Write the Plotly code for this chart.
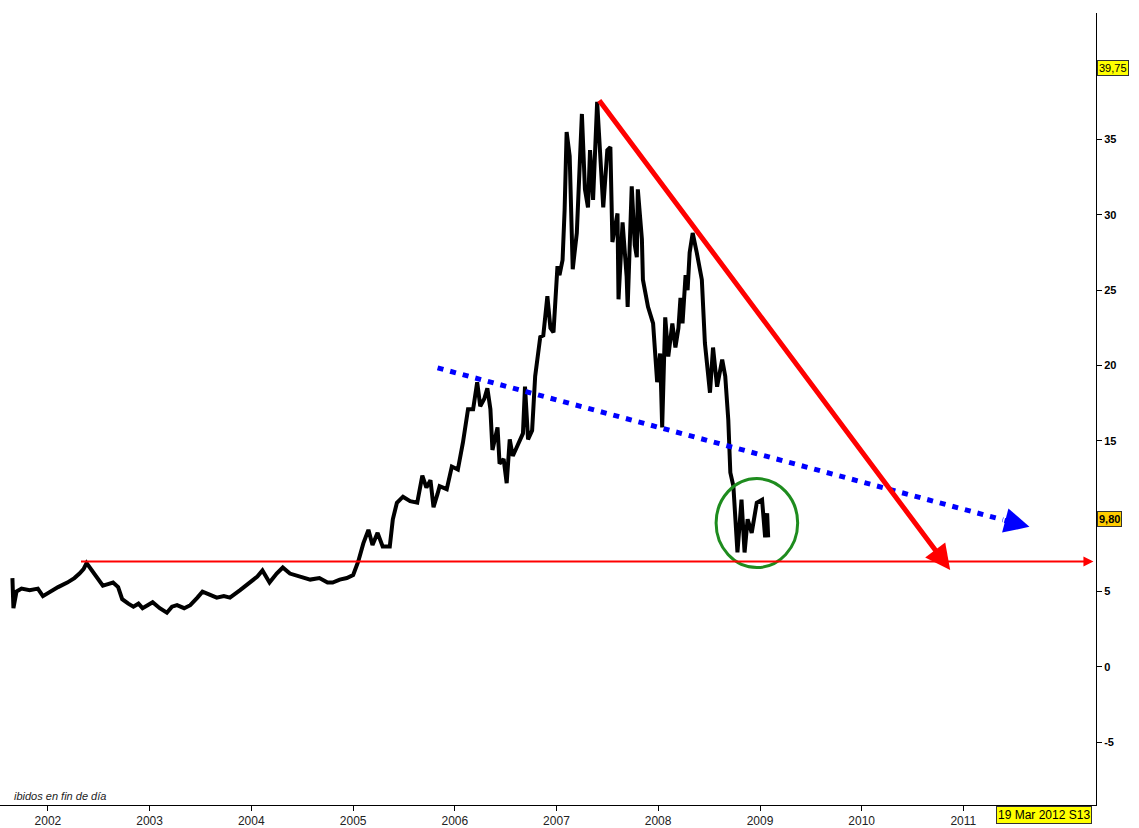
import pandas as pd
import plotly.graph_objects as go

# precio de cierre (fecha en años decimales, valor en euros)
years = [
    2001.65, 2001.66, 2001.69, 2001.74, 2001.82, 2001.90, 2001.95, 2002.02, 2002.10, 2002.19,
    2002.26, 2002.31, 2002.35, 2002.38, 2002.43, 2002.48, 2002.54, 2002.59, 2002.64, 2002.69,
    2002.73, 2002.79, 2002.84, 2002.89, 2002.93, 2002.98, 2003.03, 2003.10, 2003.17, 2003.22,
    2003.27, 2003.34, 2003.40, 2003.47, 2003.52, 2003.59, 2003.66, 2003.73, 2003.79, 2003.89,
    2003.99, 2004.06, 2004.11, 2004.15, 2004.18, 2004.25, 2004.31, 2004.38, 2004.48, 2004.58,
    2004.67, 2004.75, 2004.80, 2004.87, 2004.94, 2005.00, 2005.05, 2005.10, 2005.15, 2005.19,
    2005.24, 2005.29, 2005.36, 2005.39, 2005.43, 2005.49, 2005.56, 2005.63, 2005.68, 2005.72,
    2005.76, 2005.79, 2005.83, 2005.85, 2005.92, 2005.97, 2006.03, 2006.08, 2006.13, 2006.18,
    2006.22, 2006.25, 2006.29, 2006.32, 2006.35, 2006.37, 2006.42, 2006.44, 2006.48, 2006.51,
    2006.54, 2006.57, 2006.61, 2006.67, 2006.69, 2006.72, 2006.76, 2006.79, 2006.84, 2006.87,
    2006.91, 2006.94, 2006.97, 2007.01, 2007.03, 2007.06, 2007.08, 2007.10, 2007.13, 2007.16,
    2007.20, 2007.25, 2007.28, 2007.31, 2007.33, 2007.36, 2007.40, 2007.43, 2007.46, 2007.50,
    2007.53, 2007.55, 2007.60, 2007.61, 2007.65, 2007.69, 2007.70, 2007.74, 2007.77, 2007.79,
    2007.80, 2007.84, 2007.85, 2007.90, 2007.95, 2007.99, 2008.02, 2008.04, 2008.07, 2008.10,
    2008.14, 2008.17, 2008.20, 2008.22, 2008.24, 2008.27, 2008.29, 2008.31, 2008.34, 2008.38,
    2008.43, 2008.46, 2008.51, 2008.54, 2008.58, 2008.63, 2008.66, 2008.69, 2008.71, 2008.74,
    2008.78, 2008.82, 2008.85, 2008.88, 2008.92, 2008.97, 2009.02, 2009.05, 2009.07, 2009.08,
]
prices = [
    5.9, 3.9, 5.0, 5.2, 5.1, 5.2, 4.7, 5.0, 5.3, 5.6,
    5.9, 6.2, 6.5, 6.9, 6.4, 5.9, 5.4, 5.5, 5.6, 5.3,
    4.5, 4.2, 4.0, 4.2, 3.9, 4.1, 4.3, 3.9, 3.6, 4.0,
    4.1, 3.9, 4.1, 4.6, 5.0, 4.8, 4.6, 4.7, 4.6, 5.1,
    5.6, 6.0, 6.4, 5.9, 5.6, 6.2, 6.6, 6.2, 6.0, 5.8,
    5.9, 5.6, 5.6, 5.8, 5.9, 6.1, 7.0, 8.2, 9.1, 8.1,
    8.9, 8.0, 8.0, 9.8, 10.9, 11.3, 11.0, 10.9, 12.7, 11.9,
    12.4, 10.6, 11.5, 12.0, 11.8, 13.3, 13.1, 14.9, 17.1, 17.1,
    18.9, 17.3, 17.8, 18.5, 17.1, 14.4, 15.9, 13.5, 13.8, 12.2,
    15.1, 14.0, 14.6, 15.5, 18.6, 15.1, 15.7, 19.3, 21.9, 22.0,
    24.6, 22.5, 22.2, 26.6, 26.0, 27.0, 30.3, 35.5, 33.9, 26.4,
    28.8, 36.7, 31.7, 30.5, 34.3, 31.0, 37.5, 33.9, 30.5, 34.3,
    34.5, 28.2, 30.1, 24.4, 29.5, 25.9, 23.9, 31.9, 28.0, 27.2,
    31.7, 28.4, 25.7, 23.9, 22.8, 18.9, 20.8, 15.9, 23.2, 20.6,
    22.8, 21.2, 22.5, 24.5, 22.8, 26.0, 25.0, 27.5, 28.8, 27.5,
    25.7, 21.5, 18.2, 21.2, 18.6, 20.4, 19.3, 16.4, 12.9, 12.0,
    7.6, 11.1, 7.6, 9.8, 8.9, 10.9, 11.1, 8.6, 10.2, 8.6,
]

# lineas dibujadas (inicio, fin)
support_level = 7.0
support_years = [2002.31, 2012.28]
down_trend_years = [2007.41, 2010.87]
down_trend_values = [37.7, 6.44]
neck_years = [2005.83, 2011.39, 2011.65]
neck_values = [19.85, 9.76, 9.30]
circle_years = [2008.57, 2009.37]
circle_values = [6.6, 12.5]

y_ticks = [-5, 0, 5, 9.8, 15, 20, 25, 30, 35, 39.75]
y_tick_text = ["-5", "0", "5", "", "15", "20", "25", "30", "35", ""]
x_tick_years = list(range(2002, 2013))
x_tick_text = [str(y) for y in range(2002, 2012)] + [""]
last_price = 9.80
max_price = 39.75
date_label = "19 Mar 2012 S13"


def to_date(y):
    base = pd.Timestamp(year=int(y), month=1, day=1)
    return base + pd.Timedelta(days=(y - int(y)) * 365.25)


dates = [to_date(y) for y in years]

fig = go.Figure()

fig.add_trace(go.Scatter(
    x=dates, y=prices, mode="lines",
    line=dict(color="black", width=4),
    showlegend=False,
))

# linea azul punteada
fig.add_trace(go.Scatter(
    x=[to_date(y) for y in neck_years[:2]], y=neck_values[:2], mode="lines",
    line=dict(color="#0000ff", width=5, dash="6px,7px"),
    showlegend=False, hoverinfo="skip",
))

arrows = [
    # soporte horizontal
    (support_years[0], support_level, support_years[1], support_level, "#ff0000", 2, 1.0),
    # directriz bajista
    (down_trend_years[0], down_trend_values[0], down_trend_years[1], down_trend_values[1], "#ff0000", 5, 1.0),
    # punta de la linea azul
    (neck_years[1], neck_values[1], neck_years[2], neck_values[2], "#0000ff", 5, 1.0),
]
for x0, y0, x1, y1, color, width, size in arrows:
    fig.add_annotation(
        x=to_date(x1), y=y1, ax=to_date(x0), ay=y0,
        xref="x", yref="y", axref="x", ayref="y",
        text="", showarrow=True, arrowhead=2, arrowsize=size,
        arrowwidth=width, arrowcolor=color, standoff=0,
    )

fig.add_shape(
    type="circle", xref="x", yref="y",
    x0=to_date(circle_years[0]), x1=to_date(circle_years[1]),
    y0=circle_values[0], y1=circle_values[1],
    line=dict(color="#1e8c1e", width=3),
)

# etiquetas del eje de precios
fig.add_annotation(
    xref="paper", yref="y", x=1, y=max_price, xanchor="left", xshift=1,
    text="39,75", showarrow=False, bgcolor="#ffff00", bordercolor="#333333",
    borderwidth=1, borderpad=1, font=dict(family="Liberation Sans", size=11, color="black"),
)
fig.add_annotation(
    xref="paper", yref="y", x=1, y=last_price, xanchor="left", xshift=1,
    text="<b>9,80</b>", showarrow=False, bgcolor="#ffcc00", bordercolor="#333333",
    borderwidth=1, borderpad=1, font=dict(family="Liberation Sans", size=11, color="black"),
)
fig.add_annotation(
    xref="paper", yref="paper", x=1092 / 1096, y=0, xanchor="right", yanchor="top",
    yshift=-1, text=date_label, showarrow=False, bgcolor="#ffff00",
    bordercolor="#333333", borderwidth=1, borderpad=1,
    font=dict(family="Liberation Sans", size=12, color="black"),
)
fig.add_annotation(
    xref="paper", yref="paper", x=0.011, y=0, xanchor="left", yanchor="bottom",
    yshift=1, text="<i>ibidos en fin de día</i>", showarrow=False,
    font=dict(family="Liberation Sans", size=11, color="#222222"),
)

fig.update_xaxes(
    range=[to_date(2001.528), to_date(2012.305)],
    tickvals=[to_date(y) for y in x_tick_years], ticktext=x_tick_text,
    showline=True, linecolor="black", linewidth=1,
    ticks="outside", ticklen=5, tickcolor="black",
    showgrid=False, zeroline=False,
    tickfont=dict(family="Liberation Sans", size=12, color="#222222"),
)
fig.update_yaxes(
    side="right", range=[-9.16, 43.4],
    tickvals=y_ticks, ticktext=y_tick_text,
    showline=True, linecolor="black", linewidth=1,
    ticks="outside", ticklen=5, tickcolor="black",
    showgrid=False, zeroline=False,
    tickfont=dict(family="Liberation Sans", size=11, color="black", weight="bold"),
)
fig.update_layout(
    width=1139, height=828,
    margin=dict(l=0, r=43, t=13, b=23),
    paper_bgcolor="white", plot_bgcolor="white",
    showlegend=False,
)

# sin margen en la pagina para que el grafico ocupe toda la ventana
fig.write_html(
    "out.html",
    config={"displayModeBar": False},
    post_script="document.body.style.margin='0';",
)
